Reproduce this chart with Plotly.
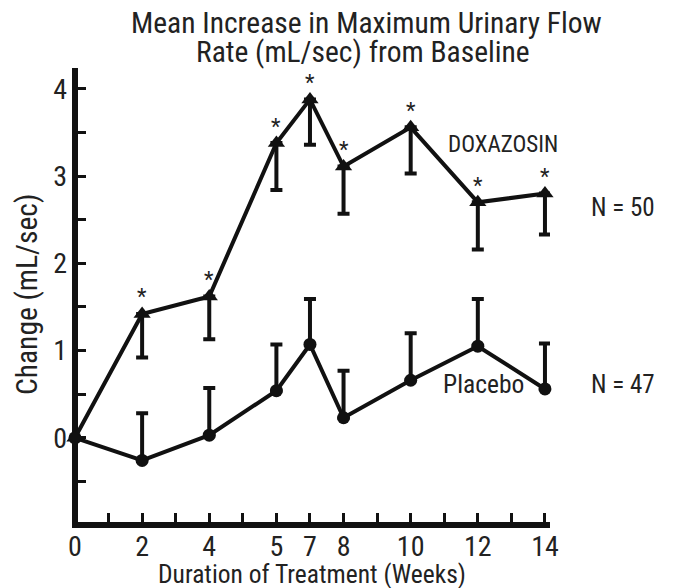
import plotly.graph_objects as go

# ---- data ----
weeks = [0, 2, 4, 5, 7, 8, 10, 12, 14]
# position of each visit on the drawn (broken) time axis
axis_pos = [0, 2, 4, 6, 7, 8, 10, 12, 14]
week_labels = ["0", "2", "4", "5", "7", "8", "10", "12", "14"]

doxazosin_mean = [0.0, 1.42, 1.62, 3.38, 3.88, 3.11, 3.56, 2.70, 2.80]
doxazosin_lower = [0.0, 0.92, 1.13, 2.84, 3.36, 2.57, 3.03, 2.16, 2.33]
doxazosin_sig = ["", "*", "*", "*", "*", "*", "*", "*", "*"]

placebo_mean = [0.0, -0.26, 0.03, 0.54, 1.07, 0.23, 0.66, 1.05, 0.56]
placebo_upper = [0.0, 0.28, 0.57, 1.07, 1.59, 0.77, 1.20, 1.59, 1.08]

y_ticks = [-0.5, 0, 0.5, 1, 1.5, 2, 2.5, 3, 3.5, 4]
y_ticktext = ["", "0", "", "1", "", "2", "", "3", "", "4"]

NARROW = "Roboto Condensed, Liberation Sans Narrow, Arial Narrow, sans-serif"
INK = "#111111"
TXT = "#222222"

W, H = 673, 588
L, R, T, B = 72, 550, 68, 522


def px(xp):
    return (xp - L) / (R - L)


def py(yp):
    return (B - yp) / (B - T)


dox_minus = [m - lo for m, lo in zip(doxazosin_mean, doxazosin_lower)]
pla_plus = [u - m for m, u in zip(placebo_mean, placebo_upper)]

fig = go.Figure()

fig.add_trace(go.Scatter(
    x=axis_pos, y=placebo_mean, mode="lines+markers",
    line=dict(color=INK, width=4),
    marker=dict(symbol="circle", size=13, color=INK),
    error_y=dict(type="data", symmetric=False, array=pla_plus,
                 arrayminus=[0] * len(pla_plus), color=INK, thickness=4, width=6),
    cliponaxis=False, showlegend=False, name="Placebo",
))

fig.add_trace(go.Scatter(
    x=axis_pos, y=doxazosin_mean, mode="lines+markers",
    line=dict(color=INK, width=4),
    marker=dict(symbol="triangle-up", size=15, color=INK),
    error_y=dict(type="data", symmetric=False, array=[0] * len(dox_minus),
                 arrayminus=dox_minus, color=INK, thickness=4, width=6),
    cliponaxis=False, showlegend=False, name="DOXAZOSIN",
))

# significance asterisks above the doxazosin points
for xv, yv, s in zip(axis_pos, doxazosin_mean, doxazosin_sig):
    if s:
        fig.add_annotation(x=xv, y=yv, xref="x", yref="y", text=s, yshift=17,
                           showarrow=False, xanchor="center", yanchor="middle",
                           font=dict(family=NARROW, size=22, color=TXT))

texts = [
    # text, x px, y px (centre), size, angle
    ("Mean Increase in Maximum Urinary Flow", 366, 23, 29.5, 0),
    ("Rate (mL/sec) from Baseline", 363, 52, 29.5, 0),
    ("DOXAZOSIN", 503, 144, 23, 0),
    ("N = 50", 623, 207, 25, 0),
    ("Placebo", 483, 384, 25.5, 0),
    ("N = 47", 623, 384, 25, 0),
    ("Duration of Treatment (Weeks)", 312, 574, 25.5, 0),
    ("Change (mL/sec)", 27, 295, 29.5, -90),
]
for t, xp, yp, sz, ang in texts:
    fig.add_annotation(x=px(xp), y=py(yp), xref="paper", yref="paper", text=t,
                       xanchor="center", yanchor="middle", textangle=ang,
                       showarrow=False, font=dict(family=NARROW, size=sz, color=TXT))

fig.update_layout(
    width=W, height=H,
    margin=dict(l=L, r=W - R, t=T, b=H - B, pad=0),
    paper_bgcolor="white", plot_bgcolor="white",
    font=dict(family=NARROW, color=TXT),
)

x_range_lo = -3 / ((R - L) / 14.15)
fig.update_xaxes(
    range=[x_range_lo, 14.15], showgrid=False,
    zeroline=True, zerolinewidth=6, zerolinecolor=INK,
    showline=True, linewidth=6, linecolor=INK,
    ticks="inside", ticklen=9, tickwidth=3, tickcolor=INK,
    tickmode="array", tickvals=list(range(0, 15)),
    ticktext=[week_labels[axis_pos.index(v)] if v in axis_pos else "" for v in range(0, 15)],
    tickfont=dict(family=NARROW, size=28, color=TXT),
    ticklabelstandoff=-6,
)

fig.update_yaxes(
    range=[-1 + 3 / 87, 4.24], showgrid=False, zeroline=False,
    showline=False,
    ticks="inside", ticklen=14, tickwidth=3, tickcolor=INK,
    tickmode="array", tickvals=y_ticks, ticktext=y_ticktext,
    tickfont=dict(family=NARROW, size=28, color=TXT),
    ticklabelstandoff=4,
)

fig.write_html("out.html", config={"displayModeBar": False},
               post_script="document.body.style.margin='0';document.body.style.overflow='hidden';")
